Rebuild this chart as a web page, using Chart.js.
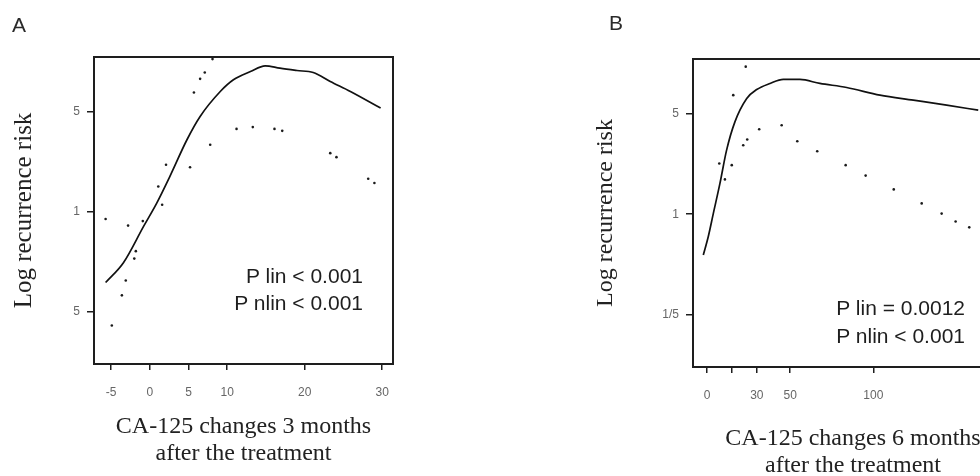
<!DOCTYPE html>
<html>
<head>
<meta charset="utf-8">
<script src="https://cdn.jsdelivr.net/npm/chart.js@4.4.1/dist/chart.umd.min.js"></script>
<style>
  html, body { margin: 0; padding: 0; background: #fff; width: 980px; height: 476px; overflow: hidden; position: relative; }
  canvas { position: absolute; top: 0; }
  #chartA { left: 0; }
  #chartB { left: 560px; }
  .panel { position: absolute; font: 21px "Liberation Sans", Arial, sans-serif; color: #2a2a2a; line-height: 21px; }
  .pval { position: absolute; font: 21px "Liberation Sans", Arial, sans-serif; color: #1e1e1e; text-align: right; width: 220px; }
</style>
</head>
<body>
<canvas id="chartA" width="420" height="476"></canvas>
<canvas id="chartB" width="470" height="490"></canvas>
<div class="panel" style="left:12px;top:14px">A</div>
<div class="panel" style="left:609px;top:12px">B</div>
<div class="pval" style="left:143px;top:262px;line-height:27px">P lin &lt; 0.001<br>P nlin &lt; 0.001</div>
<div class="pval" style="left:745px;top:294px;line-height:28px">P lin = 0.0012<br>P nlin &lt; 0.001</div>

<script>
// Panel A - CA-125 change at 3 months
const aCurveX = [-5.7, -3.4, -0.8, 0.9, 2.6, 4.8, 6.5, 9.1, 10.8, 13.0, 14.9, 16.8, 19.0, 21.1, 23.3, 25.9, 29.8];
const aCurveY = [0.32, 0.44, 0.79, 1.15, 1.77, 3.19, 4.64, 6.94, 8.38, 9.57, 10.5, 10.1, 9.73, 9.42, 8.15, 6.94, 5.31];
const aDotX = [-5.7, -4.9, -3.6, -3.1, -2.8, -2.0, -1.8, -0.9, 1.1, 1.6, 2.1, 5.2, 5.7, 6.5, 7.1, 7.8, 8.1, 11.2, 13.3, 16.1, 17.1, 23.3, 24.1, 28.2, 29.0];
const aDotY = [0.89, 0.16, 0.26, 0.33, 0.80, 0.47, 0.53, 0.86, 1.50, 1.12, 2.13, 2.05, 6.83, 8.51, 9.42, 2.94, 11.7, 3.80, 3.91, 3.80, 3.68, 2.57, 2.41, 1.70, 1.59];
const aXTicks = [-5, 0, 5, 10, 20, 30];
const aXTickLabels = ['-5', '0', '5', '10', '20', '30'];

// Panel B - CA-125 change at 6 months
const bCurveX = [-2.2, 0.8, 3.8, 7.8, 11.8, 16.8, 23.9, 29.9, 37.9, 45.9, 55.9, 67.9, 84.0, 104.0, 124.1, 144.1, 163.1];
const bCurveY = [0.52, 0.70, 1.01, 1.64, 2.80, 4.41, 6.42, 7.41, 8.17, 8.71, 8.71, 8.17, 7.66, 6.77, 6.25, 5.77, 5.32];
const bDotX = [7.4, 10.8, 14.9, 15.8, 21.8, 23.3, 24.2, 31.4, 44.9, 54.3, 66.3, 83.4, 95.4, 112.3, 129.1, 141.1, 149.5, 157.7];
const bDotY = [2.26, 1.75, 2.20, 6.77, 3.03, 10.7, 3.32, 3.92, 4.18, 3.23, 2.75, 2.20, 1.86, 1.49, 1.19, 1.01, 0.89, 0.81];
const bXTicks = [0, 15, 30, 50, 100];
const bXTickLabels = ['0', '', '30', '50', '100'];

// shared log y axis
const yTicks = [5, 1, 0.2];
const aYTickLabels = ['5', '1', '5'];
const bYTickLabels = ['5', '1', '1/5'];

const serif = '"Liberation Serif", "Times New Roman", serif';
const sans = '"Liberation Sans", Arial, sans-serif';
const ink = '#1e1e1e';
const tickGrey = '#666';

// box around the plot area
const frame = {
  id: 'frame',
  afterDatasetsDraw(chart) {
    const { ctx, chartArea: a } = chart;
    ctx.save();
    ctx.strokeStyle = ink;
    ctx.lineWidth = 2;
    ctx.strokeRect(a.left, a.top, a.right - a.left, a.bottom - a.top);
    ctx.restore();
  }
};

function points(xs, ys) {
  return xs.map((x, i) => ({ x: x, y: ys[i] }));
}

function makeChart(id, o) {
  const ctx = document.getElementById(id).getContext('2d');
  return new Chart(ctx, {
    type: 'scatter',
    data: {
      datasets: [{
        data: points(o.curveX, o.curveY),
        showLine: true,
        borderColor: '#111',
        borderWidth: 1.7,
        pointRadius: 0,
        cubicInterpolationMode: 'monotone'
      }, {
        data: points(o.dotX, o.dotY),
        pointRadius: 1.3,
        backgroundColor: '#1a1a1a',
        borderWidth: 0
      }]
    },
    options: {
      responsive: false,
      animation: false,
      layout: { padding: o.padding },
      plugins: { legend: { display: false }, tooltip: { enabled: false } },
      scales: {
        x: {
          type: 'linear',
          min: o.xMin,
          max: o.xMax,
          border: { display: false },
          grid: { drawOnChartArea: false, tickLength: 6, color: ink, lineWidth: 1.5 },
          ticks: {
            color: tickGrey, font: { family: sans, size: 12 }, padding: 15,
            autoSkip: false, maxRotation: 0,
            callback: (v, i) => o.xLabels[i]
          },
          afterBuildTicks: s => { s.ticks = o.xTicks.map(v => ({ value: v })); },
          afterFit: s => { s.height = o.xHeight; },
          title: {
            display: true,
            text: o.xTitle,
            color: '#222',
            font: { family: serif, size: 24, lineHeight: 1.15 },
            padding: { top: 0, bottom: o.xTitlePad }
          }
        },
        y: {
          type: 'logarithmic',
          min: 0.086,
          max: 12.1,
          border: { display: false },
          grid: { drawOnChartArea: false, tickLength: 7, color: ink, lineWidth: 1.5 },
          ticks: {
            color: tickGrey, font: { family: sans, size: 12 }, padding: 7,
            callback: (v, i) => o.yLabels[i]
          },
          afterBuildTicks: s => { s.ticks = yTicks.map(v => ({ value: v })); },
          afterFit: s => { s.width = o.yWidth; },
          title: {
            display: true,
            text: 'Log recurrence risk',
            color: '#222',
            font: { family: serif, size: o.yTitleSize },
            padding: { top: o.yTitlePad, bottom: 0 }
          }
        }
      }
    },
    plugins: [frame]
  });
}

makeChart('chartA', {
  curveX: aCurveX, curveY: aCurveY, dotX: aDotX, dotY: aDotY,
  xTicks: aXTicks, xLabels: aXTickLabels, yLabels: aYTickLabels,
  xMin: -7.2, xMax: 31.4,
  padding: { top: 57, left: 0, right: 27, bottom: 0 },
  xHeight: 112, yWidth: 94,
  xTitle: ['CA-125 changes 3 months', 'after the treatment'], xTitlePad: 8,
  yTitleSize: 25, yTitlePad: 9
});

makeChart('chartB', {
  curveX: bCurveX, curveY: bCurveY, dotX: bDotX, dotY: bDotY,
  xTicks: bXTicks, xLabels: bXTickLabels, yLabels: bYTickLabels,
  xMin: -8.4, xMax: 184,
  padding: { top: 59, left: 0, right: 17, bottom: 0 },
  xHeight: 123, yWidth: 133,
  xTitle: ['CA-125 changes 6 months', 'after the treatment'], xTitlePad: 10,
  yTitleSize: 24, yTitlePad: 31
});
</script>
</body>
</html>
